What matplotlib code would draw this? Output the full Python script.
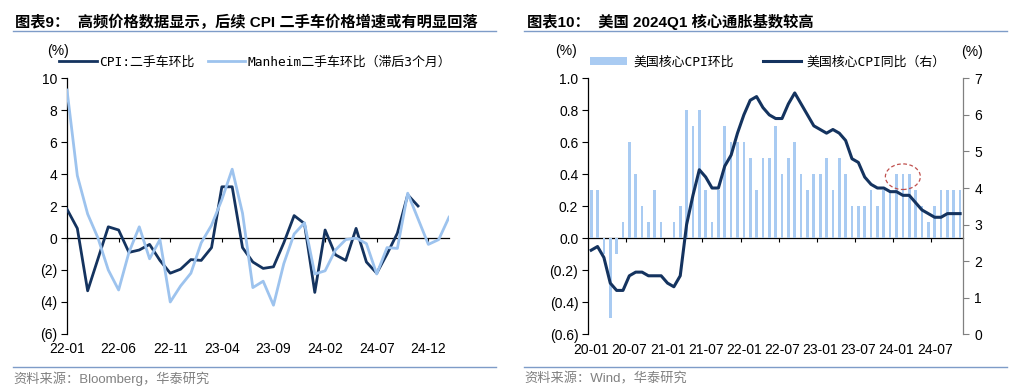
import numpy as np
import pandas as pd
import matplotlib
matplotlib.use('Agg')
import matplotlib.pyplot as plt
from matplotlib.patches import Ellipse
from matplotlib.lines import Line2D
from matplotlib.font_manager import FontProperties

plt.rcParams['font.family'] = ['Liberation Sans', 'Noto Sans CJK SC']
plt.rcParams['axes.unicode_minus'] = False

# ---- 图表9 数据 (2022-01 起, 月度) ----
cpi_used = [1.8, 0.6, -3.3, -1.3, 0.7, 0.5, -0.9, -0.75, -0.4, -1.4,
            -2.2, -1.95, -1.35, -1.4, -0.6, 3.2, 3.2, -0.6, -1.5, -1.9,
            -1.8, -0.3, 1.4, 0.9, -3.4, 0.5, -1.05, -1.4, 0.6, -1.5,
            -2.2, -1.0, 0.3, 2.7, 2.0]
manheim = [9.25, 3.9, 1.5, 0.0, -2.0, -3.25, -0.9, 0.7, -1.3, -0.1,
           -4.0, -3.0, -2.2, -0.3, 0.8, 2.4, 4.3, 1.55, -3.1, -2.7,
           -4.2, -1.6, 0.25, 0.95, -2.25, -2.05, -0.75, -0.1, 0.0, -0.35,
           -2.25, -0.6, -0.65, 2.8, 1.2, -0.4, -0.1, 1.3]
months1 = pd.period_range('2022-01', periods=len(manheim), freq='M').strftime('%y-%m')

# ---- 图表10 数据 (2020-01 起, 月度) ----
core_mom = [0.3, 0.3, -0.1, -0.5, -0.1, 0.1, 0.6, 0.4, 0.2, 0.1, 0.3, 0.1,
            0.0, 0.1, 0.2, 0.8, 0.7, 0.8, 0.3, 0.1, 0.3, 0.7, 0.6, 0.6,
            0.6, 0.5, 0.3, 0.5, 0.5, 0.7, 0.4, 0.5, 0.6, 0.4, 0.3, 0.4,
            0.4, 0.5, 0.3, 0.5, 0.4, 0.2, 0.2, 0.2, 0.3, 0.2, 0.3, 0.3,
            0.4, 0.4, 0.4, 0.3, 0.2, 0.1, 0.2, 0.3, 0.3, 0.3, 0.3]
core_yoy = [2.3, 2.4, 2.1, 1.4, 1.2, 1.2, 1.6, 1.7, 1.7, 1.6, 1.6, 1.6,
            1.4, 1.3, 1.6, 3.0, 3.8, 4.5, 4.3, 4.0, 4.0, 4.6, 4.9, 5.5,
            6.0, 6.4, 6.5, 6.2, 6.0, 5.9, 5.9, 6.3, 6.6, 6.3, 6.0, 5.7,
            5.6, 5.5, 5.6, 5.5, 5.3, 4.8, 4.7, 4.3, 4.1, 4.0, 4.0, 3.9,
            3.9, 3.8, 3.8, 3.6, 3.4, 3.3, 3.2, 3.2, 3.3, 3.3, 3.3]
months2 = pd.period_range('2020-01', periods=len(core_mom), freq='M').strftime('%y-%m')

dark = '#14335F'
light = '#9DC3EE'
bar_c = '#A9CBF2'
rule_c = '#7E9CC8'
grey = '#808080'
tick_fs = 10
leg_font = FontProperties(family=['DejaVu Sans Mono', 'Noto Sans CJK SC'], size=9.3)


def paren(v, fmt):
    s = fmt.format(abs(v))
    return '(' + s + ')' if v < -1e-9 else s


fig = plt.figure(figsize=(10.24, 3.91), dpi=100)
W, H = 1024, 391

# ================= 左图 =================
ax1 = fig.add_axes([67 / W, 1 - 334 / H, (449 - 67) / W, (334 - 78) / H])
l1, = ax1.plot(np.arange(len(cpi_used)), cpi_used, color=dark, lw=2, zorder=3)
l2, = ax1.plot(np.arange(len(manheim)), manheim, color=light, lw=2, zorder=4)
ax1.set_xlim(0, len(manheim) - 1)
ax1.set_ylim(-6, 10)
yt = np.arange(-6, 11, 2)
ax1.set_yticks(yt, [paren(v, '{:.0f}') for v in yt])
xt = np.arange(0, len(manheim), 5)
ax1.set_xticks(xt, [months1[i] for i in xt])
ax1.tick_params(axis='x', length=0, pad=6, labelsize=tick_fs)
ax1.tick_params(axis='y', length=4, width=0.8, pad=3, labelsize=tick_fs)
for s in ['top', 'right', 'bottom']:
    ax1.spines[s].set_visible(False)
ax1.spines['left'].set_linewidth(0.9)

sec1 = ax1.secondary_xaxis((0 - (-6)) / 16)
sec1.set_xticks(xt)
sec1.tick_params(length=3, width=0.8, labelbottom=False)
sec1.spines['bottom'].set_linewidth(0.9)

ax1.legend([l1, l2], ['CPI:二手车环比', 'Manheim二手车环比（滞后3个月）'],
           loc='center left', bbox_to_anchor=(-0.02, 1.0625), ncol=2,
           frameon=False, borderaxespad=0, borderpad=0, handlelength=2.9,
           handletextpad=0.15, columnspacing=1.05, prop=leg_font)
fig.text(58 / W, 1 - 51 / H, '(%)', ha='center', va='center', fontsize=tick_fs)

# ================= 右图 =================
ax2 = fig.add_axes([588 / W, 1 - 334.3 / H, (963.3 - 588) / W, 256 / H])
xr = np.arange(len(core_mom))
bars = ax2.bar(xr, core_mom, width=0.42, color=bar_c, zorder=2)
ax2.set_xlim(-0.5, len(core_mom) - 0.5)
ax2.set_ylim(-0.6, 1.0)
yt2 = np.round(np.arange(-0.6, 1.01, 0.2), 1)
ax2.set_yticks(yt2, [paren(v, '{:.1f}') for v in yt2])
xt2 = np.arange(0, len(core_mom), 6)
ax2.set_xticks(xt2, [months2[i] for i in xt2])
ax2.tick_params(axis='x', length=0, pad=6, labelsize=tick_fs)
ax2.tick_params(axis='y', length=4, width=0.8, pad=3, labelsize=tick_fs)
for s in ['top', 'right', 'bottom']:
    ax2.spines[s].set_visible(False)
ax2.spines['left'].set_linewidth(0.9)

sec2 = ax2.secondary_xaxis((0 - (-0.6)) / 1.6)
sec2.set_xticks(xt2[1:] - 0.5)
sec2.tick_params(length=3, width=0.8, labelbottom=False)
sec2.spines['bottom'].set_linewidth(0.9)

# 2024Q1 高基数标注
i_feb = list(months2).index('24-02')
ax2.add_patch(Ellipse((i_feb, core_mom[i_feb] - 0.015), width=5.5, height=0.16,
                      fill=False, ls=(0, (3, 2)), ec='#C0504D', lw=0.9, zorder=5))

ax3 = ax2.twinx()
l3, = ax3.plot(xr, core_yoy, color=dark, lw=2.2, zorder=3)
ax3.set_ylim(0, 7)
ax3.set_yticks(np.arange(0, 8, 1))
ax3.tick_params(axis='y', length=4, width=0.8, pad=4, labelsize=tick_fs, color=grey)
for s in ['top', 'left', 'bottom']:
    ax3.spines[s].set_visible(False)
ax3.spines['right'].set_color(grey)
ax3.spines['right'].set_linewidth(0.9)

ax3.legend([bars, l3], ['美国核心CPI环比', '美国核心CPI同比（右）'],
           loc='center left', bbox_to_anchor=(0.005, 1.064), ncol=2,
           frameon=False, borderaxespad=0, borderpad=0, handlelength=2.9,
           handleheight=0.55, handletextpad=0.45, columnspacing=2.3, prop=leg_font)
fig.text(566 / W, 1 - 51 / H, '(%)', ha='center', va='center', fontsize=tick_fs)
fig.text(972 / W, 1 - 52 / H, '(%)', ha='center', va='center', fontsize=tick_fs)

# ================= 标题与来源 =================
fig.text(15 / W, 1 - 22 / H, '图表9：  高频价格数据显示，后续 CPI 二手车价格增速或有明显回落',
         fontsize=11, weight='bold', va='center')
fig.text(527 / W, 1 - 22 / H, '图表10：  美国 2024Q1 核心通胀基数较高',
         fontsize=11, weight='bold', va='center')
for x0, x1 in [(13, 496), (524, 1007)]:
    fig.add_artist(Line2D([x0 / W, x1 / W], [1 - 31 / H] * 2, color=rule_c, lw=1))
    fig.add_artist(Line2D([x0 / W, x1 / W], [1 - 366.7 / H] * 2, color=rule_c, lw=1))
fig.text(13 / W, 1 - 379 / H, '资料来源：Bloomberg，华泰研究', fontsize=9.5, color=grey, va='center')
fig.text(524 / W, 1 - 379 / H, '资料来源：Wind，华泰研究', fontsize=9.5, color=grey, va='center')

fig.savefig('out.png', dpi=100)
